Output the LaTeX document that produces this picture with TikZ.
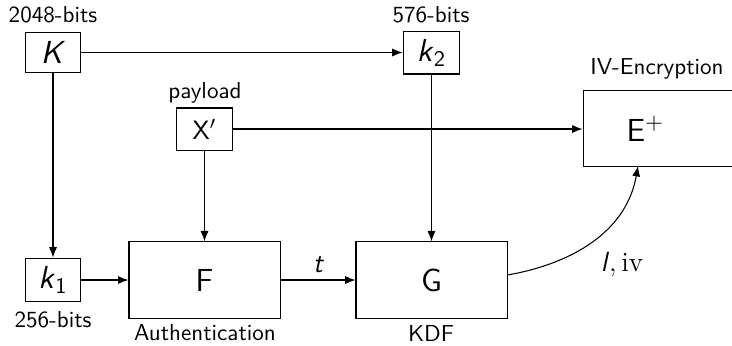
\documentclass[tikz,border=0pt]{standalone}
\usepackage{fontspec}
\usetikzlibrary{arrows.meta}
\begin{document}
\begin{tikzpicture}[x=0.433pt,y=-0.433pt,
  box/.style={draw, line width=0.45pt, inner sep=0pt, font=\sffamily\fontsize{13.8}{16}\selectfont},
  lbl/.style={font=\sffamily, inner sep=0pt},
  arr/.style={-{Latex[length=4.5pt,width=3.5pt]}, line width=0.45pt},
  every path/.style={line width=0.45pt}]
\useasboundingbox (0,0) rectangle (732,345);
% boxes
\node[box, minimum width=24.2pt, minimum height=17.1pt] (K) at (53,52.5) {\textit{K}};
\node[box, minimum width=24.6pt, minimum height=18.6pt] (k2) at (431.5,52.5) {\textit{k}$_\mathsf{2}$};
\node[box, minimum width=24.6pt, minimum height=18.2pt, font=\sffamily\fontsize{11.5}{14}\selectfont] (X) at (204.5,129) {X$'$};
\node[box, minimum width=24.2pt, minimum height=19pt] (k1) at (53,280) {\textit{k}$_\mathsf{1}$};
\node[box, minimum width=65.4pt, minimum height=33pt] (F) at (204.5,280) {F};
\node[box, minimum width=65.4pt, minimum height=33pt] (G) at (431.5,280) {G};
\node[box, minimum width=66pt, minimum height=32.6pt, anchor=west] (E) at (582.5,128.5) {\hspace*{-12pt}E$^{+}$};
% labels
\node[lbl] (lK) at (53,15) {2048-bits};
\node[lbl] (lk2) at (431,15) {576-bits};
\node[lbl] (lX) at (205,93) {payload};
\node[lbl] (lE) at (657,69) {IV-Encryption};
\node[lbl] (lk1) at (53,320) {256-bits};
\node[lbl] (lF) at (205,333) {Authentication};
\node[lbl] (lG) at (431,333) {KDF};
% connectors
\draw[arr] (K.east) -- (k2.west);
\draw[arr] (K.south) -- (k1.north);
\draw[arr] (X.east) -- (X.east -| E.west);
\draw[arr] (X.south) -- (F.north);
\draw[arr] (k2.south) -- (G.north);
\draw[arr] (k1.east) -- (F.west);
\draw[arr] (F.east) -- node[above=3pt, font=\large\sffamily\itshape, inner sep=0pt] {t} (G.west);
\coordinate (Eb) at (638,166);
\draw[arr] ([yshift=5*0.433pt]G.east) to[out=10,in=-100] (Eb);
\node[inner sep=0pt, font=\large] (liv) at (622,265) {$\textsf{\textit{l}}, \mathrm{iv}$};
\end{tikzpicture}
\end{document}
